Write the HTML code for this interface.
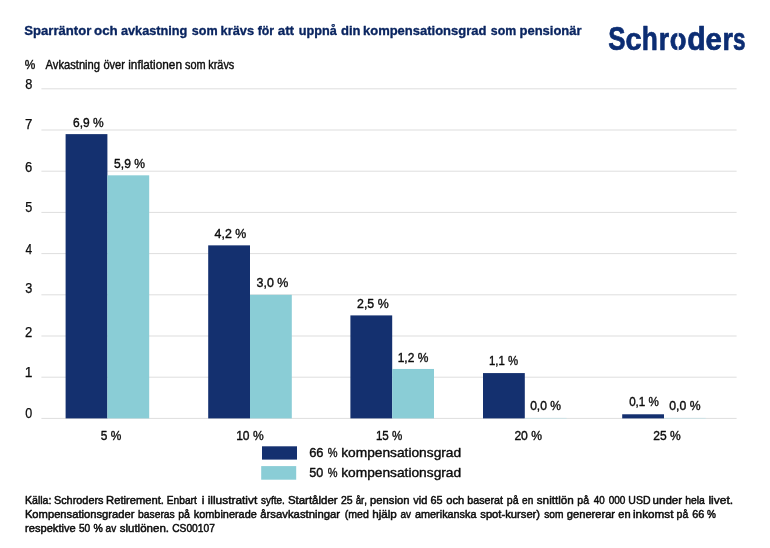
<!DOCTYPE html>
<html lang="sv">
<head>
<meta charset="utf-8">
<title>Sparräntor och avkastning</title>
<style>
html,body{margin:0;padding:0;background:#fff;}
body{width:770px;height:548px;overflow:hidden;}
svg{display:block;}
svg text{font-family:"Liberation Sans",sans-serif;font-kerning:none;stroke-linejoin:round;}
</style>
</head>
<body>
<svg width="770" height="548" viewBox="0 0 770 548">
<rect width="770" height="548" fill="#ffffff"/>
<rect x="41.4" y="417.90" width="695.2" height="1" fill="#dedede"/>
<rect x="41.4" y="376.70" width="695.2" height="1" fill="#dedede"/>
<rect x="41.4" y="335.50" width="695.2" height="1" fill="#dedede"/>
<rect x="41.4" y="294.30" width="695.2" height="1" fill="#dedede"/>
<rect x="41.4" y="253.10" width="695.2" height="1" fill="#dedede"/>
<rect x="41.4" y="211.90" width="695.2" height="1" fill="#dedede"/>
<rect x="41.4" y="170.70" width="695.2" height="1" fill="#dedede"/>
<rect x="41.4" y="129.50" width="695.2" height="1" fill="#dedede"/>
<rect x="41.4" y="88.30" width="695.2" height="1" fill="#dedede"/>
<rect x="65.6" y="134.12" width="41.8" height="284.28" fill="#14306f"/>
<rect x="107.39999999999999" y="175.32" width="41.8" height="243.08" fill="#8acdd6"/>
<rect x="208.2" y="245.36" width="41.8" height="173.04" fill="#14306f"/>
<rect x="250.0" y="294.80" width="41.8" height="123.60" fill="#8acdd6"/>
<rect x="350.4" y="315.40" width="41.8" height="103.00" fill="#14306f"/>
<rect x="392.2" y="368.96" width="41.8" height="49.44" fill="#8acdd6"/>
<rect x="483.0" y="373.08" width="41.8" height="45.32" fill="#14306f"/>
<rect x="524.8" y="417.90" width="41.8" height="1" fill="#cfe3e6"/>
<rect x="622.2" y="414.28" width="41.8" height="4.12" fill="#14306f"/>
<rect x="664.0" y="417.90" width="41.8" height="1" fill="#cfe3e6"/>
<text y="34.50" font-size="13.6" font-weight="bold" fill="#0a2560" stroke="#0a2560" stroke-width="0.35"><tspan x="24.32" textLength="66.98" lengthAdjust="spacingAndGlyphs">Sparräntor</tspan> <tspan x="93.98" textLength="23.75" lengthAdjust="spacingAndGlyphs">och</tspan> <tspan x="120.93" textLength="66.42" lengthAdjust="spacingAndGlyphs">avkastning</tspan> <tspan x="191.86" textLength="25.82" lengthAdjust="spacingAndGlyphs">som</tspan> <tspan x="220.60" textLength="33.52" lengthAdjust="spacingAndGlyphs">krävs</tspan> <tspan x="257.69" textLength="16.40" lengthAdjust="spacingAndGlyphs">för</tspan> <tspan x="277.71" textLength="16.36" lengthAdjust="spacingAndGlyphs">att</tspan> <tspan x="298.71" textLength="38.06" lengthAdjust="spacingAndGlyphs">uppnå</tspan> <tspan x="340.97" textLength="19.54" lengthAdjust="spacingAndGlyphs">din</tspan> <tspan x="362.99" textLength="123.36" lengthAdjust="spacingAndGlyphs">kompensationsgrad</tspan> <tspan x="490.87" textLength="25.40" lengthAdjust="spacingAndGlyphs">som</tspan> <tspan x="519.54" textLength="62.05" lengthAdjust="spacingAndGlyphs">pensionär</tspan></text>
<text y="49.8" font-size="33.2" font-weight="bold" fill="#0c2d73" stroke="#0c2d73" stroke-width="0.7"><tspan x="608.35" font-size="33.2" textLength="17.26" lengthAdjust="spacingAndGlyphs">S</tspan><tspan x="625.47" font-size="30.6" textLength="16.08" lengthAdjust="spacingAndGlyphs">c</tspan><tspan x="641.86" font-size="33.2" textLength="16.07" lengthAdjust="spacingAndGlyphs">h</tspan><tspan x="658.85" font-size="30.6" textLength="10.36" lengthAdjust="spacingAndGlyphs">r</tspan><tspan x="669.63" font-size="30.6" textLength="16.74" lengthAdjust="spacingAndGlyphs">o</tspan><tspan x="687.25" font-size="33.2" textLength="18.55" lengthAdjust="spacingAndGlyphs">d</tspan><tspan x="705.55" font-size="30.6" textLength="16.35" lengthAdjust="spacingAndGlyphs">e</tspan><tspan x="722.52" font-size="30.6" textLength="10.48" lengthAdjust="spacingAndGlyphs">r</tspan><tspan x="733.11" font-size="30.6" textLength="12.51" lengthAdjust="spacingAndGlyphs">s</tspan></text>
<rect x="677.4" y="32.2" width="1.3" height="5.3" fill="#ffffff"/>
<rect x="677.4" y="45.4" width="1.3" height="5.3" fill="#ffffff"/>
<text x="24.68" y="68.90" font-size="12.6" fill="#0c0c0c" stroke="#0c0c0c" stroke-width="0.4" textLength="10.55" lengthAdjust="spacingAndGlyphs">%</text>
<text y="68.90" font-size="11.9" fill="#0c0c0c" stroke="#0c0c0c" stroke-width="0.4"><tspan x="45.38" textLength="54.64" lengthAdjust="spacingAndGlyphs">Avkastning</tspan> <tspan x="103.43" textLength="21.55" lengthAdjust="spacingAndGlyphs">över</tspan> <tspan x="128.21" textLength="53.75" lengthAdjust="spacingAndGlyphs">inflationen</tspan> <tspan x="185.00" textLength="20.62" lengthAdjust="spacingAndGlyphs">som</tspan> <tspan x="208.27" textLength="26.03" lengthAdjust="spacingAndGlyphs">krävs</tspan></text>
<text x="25.21" y="418.10" font-size="14.0" fill="#0c0c0c" stroke="#0c0c0c" stroke-width="0.25" textLength="6.98" lengthAdjust="spacingAndGlyphs">0</text>
<text x="24.64" y="377.30" font-size="14.0" fill="#0c0c0c" stroke="#0c0c0c" stroke-width="0.25" textLength="7.74" lengthAdjust="spacingAndGlyphs">1</text>
<text x="25.04" y="336.60" font-size="14.0" fill="#0c0c0c" stroke="#0c0c0c" stroke-width="0.25" textLength="7.32" lengthAdjust="spacingAndGlyphs">2</text>
<text x="25.22" y="292.90" font-size="14.0" fill="#0c0c0c" stroke="#0c0c0c" stroke-width="0.25" textLength="7.04" lengthAdjust="spacingAndGlyphs">3</text>
<text x="25.43" y="253.70" font-size="14.0" fill="#0c0c0c" stroke="#0c0c0c" stroke-width="0.25" textLength="6.62" lengthAdjust="spacingAndGlyphs">4</text>
<text x="25.19" y="211.60" font-size="14.0" fill="#0c0c0c" stroke="#0c0c0c" stroke-width="0.25" textLength="7.04" lengthAdjust="spacingAndGlyphs">5</text>
<text x="25.04" y="172.30" font-size="14.0" fill="#0c0c0c" stroke="#0c0c0c" stroke-width="0.25" textLength="7.23" lengthAdjust="spacingAndGlyphs">6</text>
<text x="25.02" y="129.40" font-size="14.0" fill="#0c0c0c" stroke="#0c0c0c" stroke-width="0.25" textLength="7.34" lengthAdjust="spacingAndGlyphs">7</text>
<text x="25.14" y="89.00" font-size="14.0" fill="#0c0c0c" stroke="#0c0c0c" stroke-width="0.25" textLength="7.11" lengthAdjust="spacingAndGlyphs">8</text>
<text x="100.72" y="440.00" font-size="13.4" fill="#0c0c0c" stroke="#0c0c0c" stroke-width="0.4" textLength="20.50" lengthAdjust="spacingAndGlyphs">5 %</text>
<text x="236.18" y="440.00" font-size="13.4" fill="#0c0c0c" stroke="#0c0c0c" stroke-width="0.4" textLength="27.45" lengthAdjust="spacingAndGlyphs">10 %</text>
<text x="375.92" y="440.00" font-size="13.4" fill="#0c0c0c" stroke="#0c0c0c" stroke-width="0.4" textLength="26.39" lengthAdjust="spacingAndGlyphs">15 %</text>
<text x="514.39" y="440.00" font-size="13.4" fill="#0c0c0c" stroke="#0c0c0c" stroke-width="0.4" textLength="27.64" lengthAdjust="spacingAndGlyphs">20 %</text>
<text x="653.29" y="440.00" font-size="13.4" fill="#0c0c0c" stroke="#0c0c0c" stroke-width="0.4" textLength="27.43" lengthAdjust="spacingAndGlyphs">25 %</text>
<text x="72.99" y="127.00" font-size="13.4" fill="#0c0c0c" stroke="#0c0c0c" stroke-width="0.4" textLength="30.64" lengthAdjust="spacingAndGlyphs">6,9 %</text>
<text x="114.12" y="167.90" font-size="13.4" fill="#0c0c0c" stroke="#0c0c0c" stroke-width="0.4" textLength="30.91" lengthAdjust="spacingAndGlyphs">5,9 %</text>
<text x="214.62" y="237.60" font-size="13.4" fill="#0c0c0c" stroke="#0c0c0c" stroke-width="0.4" textLength="31.62" lengthAdjust="spacingAndGlyphs">4,2 %</text>
<text x="256.53" y="286.90" font-size="13.4" fill="#0c0c0c" stroke="#0c0c0c" stroke-width="0.4" textLength="31.82" lengthAdjust="spacingAndGlyphs">3,0 %</text>
<text x="357.08" y="307.90" font-size="13.4" fill="#0c0c0c" stroke="#0c0c0c" stroke-width="0.4" textLength="31.56" lengthAdjust="spacingAndGlyphs">2,5 %</text>
<text x="397.69" y="361.60" font-size="13.4" fill="#0c0c0c" stroke="#0c0c0c" stroke-width="0.4" textLength="30.64" lengthAdjust="spacingAndGlyphs">1,2 %</text>
<text x="488.93" y="364.90" font-size="13.4" fill="#0c0c0c" stroke="#0c0c0c" stroke-width="0.4" textLength="29.18" lengthAdjust="spacingAndGlyphs">1,1 %</text>
<text x="530.13" y="409.60" font-size="13.4" fill="#0c0c0c" stroke="#0c0c0c" stroke-width="0.4" textLength="30.90" lengthAdjust="spacingAndGlyphs">0,0 %</text>
<text x="629.15" y="406.00" font-size="13.4" fill="#0c0c0c" stroke="#0c0c0c" stroke-width="0.4" textLength="29.77" lengthAdjust="spacingAndGlyphs">0,1 %</text>
<text x="669.32" y="410.00" font-size="13.4" fill="#0c0c0c" stroke="#0c0c0c" stroke-width="0.4" textLength="31.21" lengthAdjust="spacingAndGlyphs">0,0 %</text>
<rect x="262" y="446.3" width="35" height="13.3" fill="#14306f"/>
<rect x="261.2" y="466.1" width="35" height="13.6" fill="#8acdd6"/>
<text y="456.60" font-size="13.4" fill="#0c0c0c" stroke="#0c0c0c" stroke-width="0.4"><tspan x="309.14" textLength="14.43" lengthAdjust="spacingAndGlyphs">66</tspan> <tspan x="327.80" textLength="9.80" lengthAdjust="spacingAndGlyphs">%</tspan> <tspan x="341.17" textLength="120.01" lengthAdjust="spacingAndGlyphs">kompensationsgrad</tspan></text>
<text y="477.40" font-size="13.4" fill="#0c0c0c" stroke="#0c0c0c" stroke-width="0.4"><tspan x="309.30" textLength="14.00" lengthAdjust="spacingAndGlyphs">50</tspan> <tspan x="327.81" textLength="9.78" lengthAdjust="spacingAndGlyphs">%</tspan> <tspan x="341.17" textLength="120.01" lengthAdjust="spacingAndGlyphs">kompensationsgrad</tspan></text>
<text y="503.60" font-size="11.5" fill="#0c0c0c" stroke="#0c0c0c" stroke-width="0.5"><tspan x="24.93" textLength="26.54" lengthAdjust="spacingAndGlyphs">Källa:</tspan> <tspan x="53.91" textLength="49.59" lengthAdjust="spacingAndGlyphs">Schroders</tspan> <tspan x="106.08" textLength="57.84" lengthAdjust="spacingAndGlyphs">Retirement.</tspan> <tspan x="166.76" textLength="30.11" lengthAdjust="spacingAndGlyphs">Enbart</tspan> <tspan x="201.67" textLength="2.67" lengthAdjust="spacingAndGlyphs">i</tspan> <tspan x="207.70" textLength="49.58" lengthAdjust="spacingAndGlyphs">illustrativt</tspan> <tspan x="260.92" textLength="23.89" lengthAdjust="spacingAndGlyphs">syfte.</tspan> <tspan x="287.88" textLength="49.71" lengthAdjust="spacingAndGlyphs">Startålder</tspan> <tspan x="340.97" textLength="11.67" lengthAdjust="spacingAndGlyphs">25</tspan> <tspan x="355.69" textLength="11.39" lengthAdjust="spacingAndGlyphs">år,</tspan> <tspan x="369.97" textLength="39.46" lengthAdjust="spacingAndGlyphs">pension</tspan> <tspan x="413.16" textLength="14.15" lengthAdjust="spacingAndGlyphs">vid</tspan> <tspan x="430.55" textLength="12.11" lengthAdjust="spacingAndGlyphs">65</tspan> <tspan x="446.23" textLength="17.99" lengthAdjust="spacingAndGlyphs">och</tspan> <tspan x="467.31" textLength="35.77" lengthAdjust="spacingAndGlyphs">baserat</tspan> <tspan x="506.82" textLength="11.78" lengthAdjust="spacingAndGlyphs">på</tspan> <tspan x="522.07" textLength="11.18" lengthAdjust="spacingAndGlyphs">en</tspan> <tspan x="536.77" textLength="37.09" lengthAdjust="spacingAndGlyphs">snittlön</tspan> <tspan x="577.32" textLength="11.78" lengthAdjust="spacingAndGlyphs">på</tspan> <tspan x="593.77" textLength="10.91" lengthAdjust="spacingAndGlyphs">40</tspan> <tspan x="608.71" textLength="16.68" lengthAdjust="spacingAndGlyphs">000</tspan> <tspan x="628.29" textLength="22.22" lengthAdjust="spacingAndGlyphs">USD</tspan> <tspan x="652.55" textLength="29.54" lengthAdjust="spacingAndGlyphs">under</tspan> <tspan x="685.28" textLength="19.62" lengthAdjust="spacingAndGlyphs">hela</tspan> <tspan x="708.40" textLength="24.70" lengthAdjust="spacingAndGlyphs">livet.</tspan></text>
<text y="517.90" font-size="11.5" fill="#0c0c0c" stroke="#0c0c0c" stroke-width="0.5"><tspan x="24.88" textLength="109.60" lengthAdjust="spacingAndGlyphs">Kompensationsgrader</tspan> <tspan x="138.03" textLength="36.74" lengthAdjust="spacingAndGlyphs">baseras</tspan> <tspan x="178.22" textLength="11.78" lengthAdjust="spacingAndGlyphs">på</tspan> <tspan x="193.77" textLength="63.02" lengthAdjust="spacingAndGlyphs">kombinerade</tspan> <tspan x="260.32" textLength="79.77" lengthAdjust="spacingAndGlyphs">årsavkastningar</tspan> <tspan x="344.75" textLength="24.03" lengthAdjust="spacingAndGlyphs">(med</tspan> <tspan x="372.19" textLength="24.70" lengthAdjust="spacingAndGlyphs">hjälp</tspan> <tspan x="400.48" textLength="10.56" lengthAdjust="spacingAndGlyphs">av</tspan> <tspan x="415.04" textLength="61.46" lengthAdjust="spacingAndGlyphs">amerikanska</tspan> <tspan x="480.29" textLength="59.81" lengthAdjust="spacingAndGlyphs">spot-kurser)</tspan> <tspan x="544.22" textLength="19.26" lengthAdjust="spacingAndGlyphs">som</tspan> <tspan x="566.83" textLength="48.25" lengthAdjust="spacingAndGlyphs">genererar</tspan> <tspan x="618.33" textLength="12.29" lengthAdjust="spacingAndGlyphs">en</tspan> <tspan x="633.02" textLength="40.37" lengthAdjust="spacingAndGlyphs">inkomst</tspan> <tspan x="676.62" textLength="11.68" lengthAdjust="spacingAndGlyphs">på</tspan> <tspan x="692.25" textLength="12.13" lengthAdjust="spacingAndGlyphs">66</tspan> <tspan x="707.04" textLength="8.91" lengthAdjust="spacingAndGlyphs">%</tspan></text>
<text y="532.40" font-size="11.5" fill="#0c0c0c" stroke="#0c0c0c" stroke-width="0.5"><tspan x="25.06" textLength="50.63" lengthAdjust="spacingAndGlyphs">respektive</tspan> <tspan x="78.89" textLength="11.30" lengthAdjust="spacingAndGlyphs">50</tspan> <tspan x="93.53" textLength="9.35" lengthAdjust="spacingAndGlyphs">%</tspan> <tspan x="105.58" textLength="10.56" lengthAdjust="spacingAndGlyphs">av</tspan> <tspan x="119.68" textLength="49.37" lengthAdjust="spacingAndGlyphs">slutlönen.</tspan> <tspan x="172.18" textLength="42.74" lengthAdjust="spacingAndGlyphs">CS00107</tspan></text>
</svg>
</body>
</html>
